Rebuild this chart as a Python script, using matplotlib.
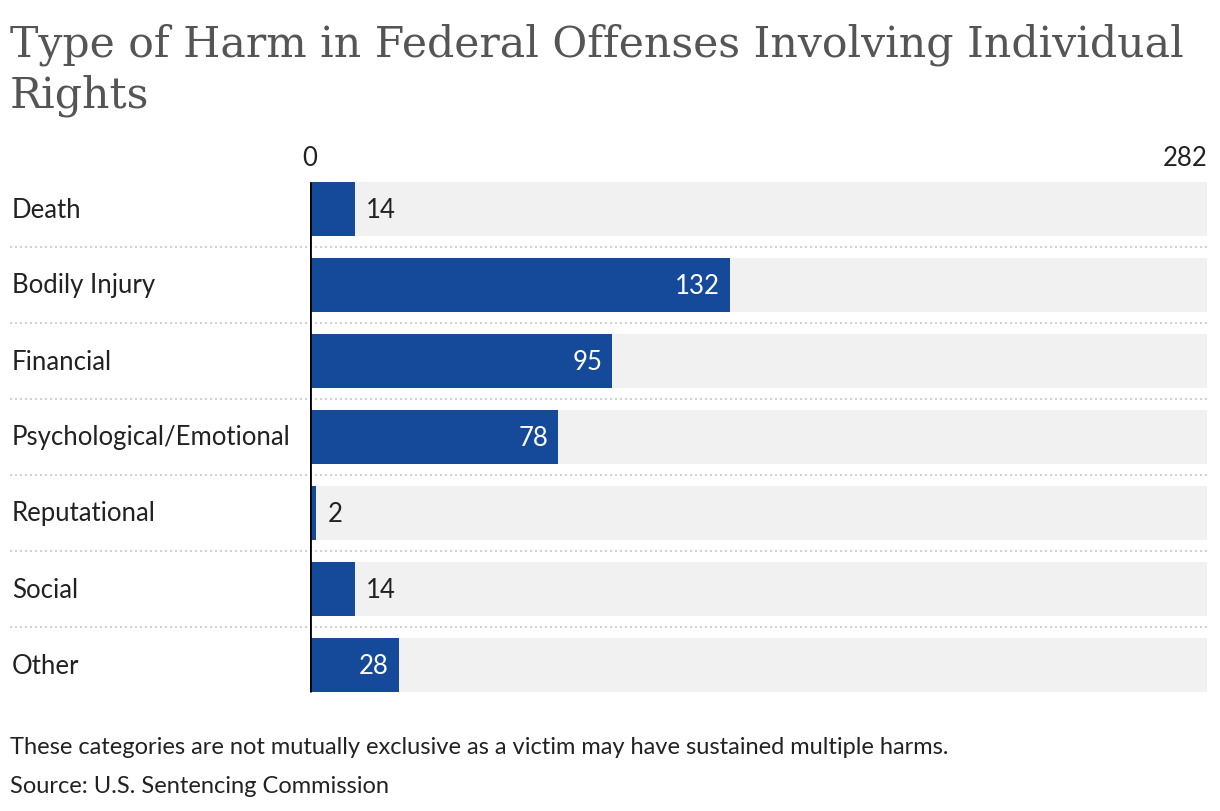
import matplotlib
matplotlib.use("Agg")
import matplotlib.pyplot as plt
import matplotlib.transforms as mtransforms

categories = ["Death", "Bodily Injury", "Financial", "Psychological/Emotional",
              "Reputational", "Social", "Other"]
values = [14, 132, 95, 78, 2, 14, 28]
axis_max = 282
tick_labels = ["0", "282"]
title_lines = ["Type of Harm in Federal Offenses Involving Individual", "Rights"]
note = "These categories are not mutually exclusive as a victim may have sustained multiple harms."
source = "Source: U.S. Sentencing Commission"

BAR = "#154a9b"
BG = "#f1f1f1"
W, H = 1220, 812
FS = 18.5

fig = plt.figure(figsize=(W / 100, H / 100), dpi=100)
ax = fig.add_axes([310 / W, 1 - 704 / H, 897 / W, 532 / H])
n = len(categories)
ys = list(range(n))
bh = 54 / 76

ax.barh(ys, [axis_max] * n, height=bh, color=BG, zorder=1)
ax.barh(ys, values, height=bh, color=BAR, zorder=2)
ax.set_xlim(0, axis_max)
ax.set_ylim(n - 0.5, -0.5)
ax.axis("off")

ax.vlines(0, -bh / 2, n - 1 + bh / 2, color="black", lw=2, zorder=3)

px = axis_max / 897.0
for y, v in zip(ys, values):
    if v >= 20:
        ax.text(v - 10 * px, y, str(v), ha="right", va="center", color="white",
                fontsize=FS, family="Lato", zorder=4)
    else:
        ax.text(v + 11 * px, y, str(v), ha="left", va="center", color="#222222",
                fontsize=FS, family="Lato", zorder=4)

trans = mtransforms.blended_transform_factory(fig.transFigure, ax.transData)
for y, c in zip(ys, categories):
    ax.text(12 / W, y, c, transform=trans, ha="left", va="center",
            fontsize=FS, family="Lato", color="#222222")
for b in range(n - 1):
    ax.plot([10 / W, 1207 / W], [b + 0.5, b + 0.5], transform=trans,
            color="#c8c8c8", lw=1.2, ls=(0, (1.2, 1.8)), clip_on=False, zorder=0)

fig.text(310 / W, 1 - 158 / H, tick_labels[0], ha="center", va="center",
         fontsize=FS, family="Lato", color="#222222")
fig.text(1207 / W, 1 - 158 / H, tick_labels[1], ha="right", va="center",
         fontsize=FS, family="Lato", color="#222222")

for i, line in enumerate(title_lines):
    fig.text(10 / W, 1 - (57 + 51 * i) / H, line, ha="left", va="baseline",
             fontsize=30.7, family="DejaVu Serif", color="#555555")

fig.text(10 / W, 1 - 748 / H, note, ha="left", va="center", fontsize=17,
         family="Lato", color="#222222")
fig.text(10 / W, 1 - 787 / H, source, ha="left", va="center", fontsize=17,
         family="Lato", color="#222222")

fig.savefig("out.png", dpi=100)
